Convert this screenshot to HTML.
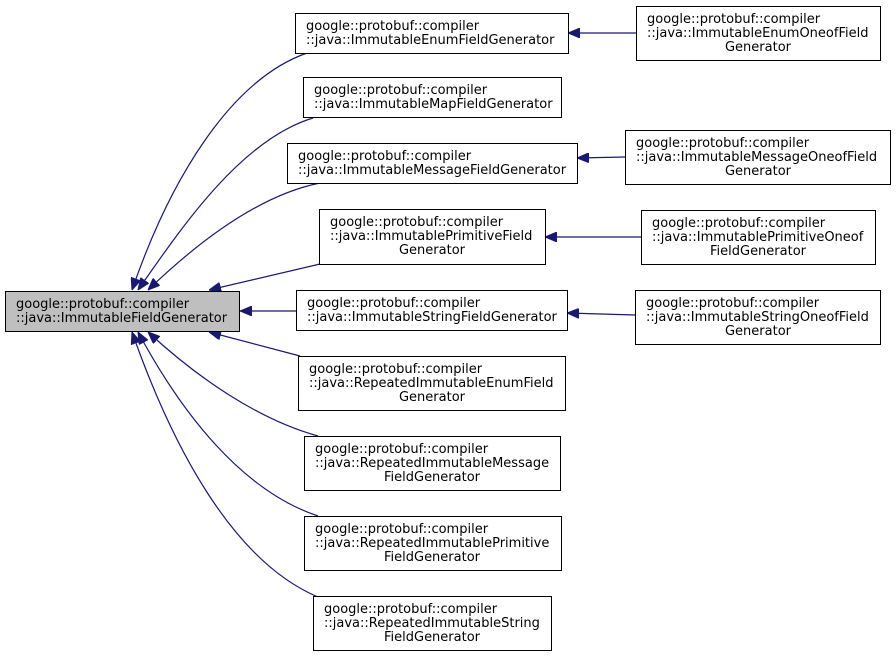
<!DOCTYPE html>
<html><head><meta charset="utf-8"><style>
html,body{margin:0;padding:0;background:#fff}
svg{display:block}
text{font-family:"DejaVu Sans","Liberation Sans",sans-serif;font-size:13px;fill:#000}
</style></head><body>
<svg width="896" height="657" viewBox="0 0 896 657" xmlns="http://www.w3.org/2000/svg">
<defs>
<marker id="a" viewBox="0 0 12 10" refX="12" refY="5" markerWidth="12" markerHeight="10" markerUnits="userSpaceOnUse" orient="auto">
<path d="M0,0 L12,5 L0,10 z" fill="#191970" stroke="#191970"/>
</marker>
</defs>
<g fill="none" stroke="#191970" stroke-width="1.2">
<path d="M307,53 C230,80 170,180 132,290" marker-end="url(#a)"/>
<path d="M313,118 C240,140 180,230 138,290" marker-end="url(#a)"/>
<path d="M320,183 C260,195 200,240 148,290" marker-end="url(#a)"/>
<path d="M320,264 L209,290" marker-end="url(#a)"/>
<path d="M296,311 L240,311" marker-end="url(#a)"/>
<path d="M300,356 L209,332" marker-end="url(#a)"/>
<path d="M318,436 C260,420 200,380 148,332" marker-end="url(#a)"/>
<path d="M318,516 C240,490 180,410 138,332" marker-end="url(#a)"/>
<path d="M318,597 C230,560 170,440 132,332" marker-end="url(#a)"/>
<path d="M636,33 L568,33" marker-end="url(#a)"/>
<path d="M625,157 L577,158" marker-end="url(#a)"/>
<path d="M641,237 L545,237" marker-end="url(#a)"/>
<path d="M635,315 L567,313" marker-end="url(#a)"/>
</g>
<g stroke="#000" stroke-width="1" fill="#fff">
<rect x="5.5" y="291.5" width="234" height="40" fill="#bfbfbf"/>
<rect x="295.5" y="13.5" width="273" height="40"/>
<rect x="303.5" y="77.5" width="258" height="40"/>
<rect x="287.5" y="143.5" width="290" height="40"/>
<rect x="319.5" y="209.5" width="226" height="55"/>
<rect x="296.5" y="290.5" width="271" height="40"/>
<rect x="298.5" y="356.5" width="267" height="54"/>
<rect x="304.5" y="436.5" width="256" height="54"/>
<rect x="304.5" y="516.5" width="257" height="54"/>
<rect x="313.5" y="596.5" width="238" height="54"/>
<rect x="636.5" y="6.5" width="244" height="54"/>
<rect x="625.5" y="130.5" width="265" height="54"/>
<rect x="641.5" y="210.5" width="234" height="54"/>
<rect x="635.5" y="290.5" width="245" height="54"/>
</g>
<text x="16" y="308">google::protobuf::compiler</text><text x="16" y="322">::java::ImmutableFieldGenerator</text>
<text x="306" y="30">google::protobuf::compiler</text><text x="306" y="44">::java::ImmutableEnumFieldGenerator</text>
<text x="314" y="94">google::protobuf::compiler</text><text x="314" y="108">::java::ImmutableMapFieldGenerator</text>
<text x="298" y="160">google::protobuf::compiler</text><text x="298" y="174">::java::ImmutableMessageFieldGenerator</text>
<text x="330" y="226">google::protobuf::compiler</text><text x="330" y="240">::java::ImmutablePrimitiveField</text><text x="432" y="254" text-anchor="middle">Generator</text>
<text x="307" y="307">google::protobuf::compiler</text><text x="307" y="321">::java::ImmutableStringFieldGenerator</text>
<text x="309" y="373">google::protobuf::compiler</text><text x="309" y="387">::java::RepeatedImmutableEnumField</text><text x="432" y="401" text-anchor="middle">Generator</text>
<text x="315" y="453">google::protobuf::compiler</text><text x="315" y="467">::java::RepeatedImmutableMessage</text><text x="432" y="481" text-anchor="middle">FieldGenerator</text>
<text x="315" y="533">google::protobuf::compiler</text><text x="315" y="547">::java::RepeatedImmutablePrimitive</text><text x="432" y="561" text-anchor="middle">FieldGenerator</text>
<text x="324" y="613">google::protobuf::compiler</text><text x="324" y="627">::java::RepeatedImmutableString</text><text x="432" y="641" text-anchor="middle">FieldGenerator</text>
<text x="647" y="23">google::protobuf::compiler</text><text x="647" y="37">::java::ImmutableEnumOneofField</text><text x="758" y="51" text-anchor="middle">Generator</text>
<text x="636" y="147">google::protobuf::compiler</text><text x="636" y="161">::java::ImmutableMessageOneofField</text><text x="758" y="175" text-anchor="middle">Generator</text>
<text x="652" y="227">google::protobuf::compiler</text><text x="652" y="241">::java::ImmutablePrimitiveOneof</text><text x="758" y="255" text-anchor="middle">FieldGenerator</text>
<text x="646" y="307">google::protobuf::compiler</text><text x="646" y="321">::java::ImmutableStringOneofField</text><text x="758" y="335" text-anchor="middle">Generator</text>
</svg>
</body></html>
